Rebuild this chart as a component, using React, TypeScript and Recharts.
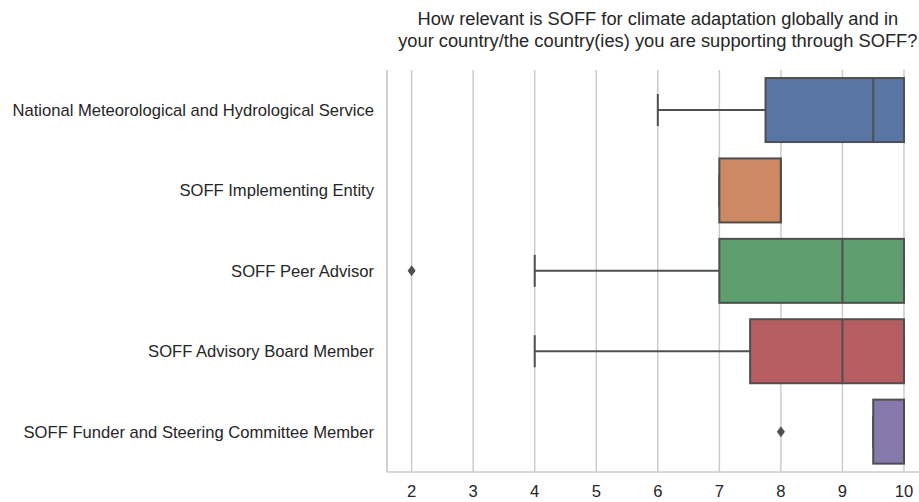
import { ComposedChart, Bar, XAxis, YAxis, CartesianGrid } from "recharts";

const groups = [
  "National Meteorological and Hydrological Service",
  "SOFF Implementing Entity",
  "SOFF Peer Advisor",
  "SOFF Advisory Board Member",
  "SOFF Funder and Steering Committee Member",
];
const whiskerLow = [6, 7, 4, 4, 9.5];
const q1 = [7.75, 7, 7, 7.5, 9.5];
const median = [9.5, 8, 9, 9, 10];
const q3 = [10, 8, 10, 10, 10];
const whiskerHigh = [10, 8, 10, 10, 10];
const outliers: (number | null)[] = [null, null, 2, null, 8];
const boxColors = ["#5875a4", "#cc8963", "#5f9e6e", "#b55d60", "#857aab"];
const xTicks = [2, 3, 4, 5, 6, 7, 8, 9, 10];

const LINE = "#4f4f4f";
const GRID = "#cccccc";
const TEXT = "#262626";

type Row = {
  name: string;
  wlo: number;
  q1: number;
  med: number;
  q3: number;
  whi: number;
  out: number | null;
  lo: number;
  hi: number;
  color: string;
};

const rows: Row[] = groups.map((name, i) => {
  const all = [whiskerLow[i], q1[i], q3[i], whiskerHigh[i]];
  if (outliers[i] != null) all.push(outliers[i] as number);
  return {
    name,
    wlo: whiskerLow[i],
    q1: q1[i],
    med: median[i],
    q3: q3[i],
    whi: whiskerHigh[i],
    out: outliers[i],
    lo: Math.min(...all),
    hi: Math.max(...all),
    color: boxColors[i],
  };
});

// draws one whole box: the bar spans [lo, hi] on the x scale, so every
// value is placed inside that span
function BoxShape(props: any) {
  const { x, y, width, height, payload } = props;
  const r: Row = payload;
  const px = (v: number) => x + ((v - r.lo) / (r.hi - r.lo)) * width;
  const cy = y + height / 2;
  const cap = height / 4;
  return (
    <g>
      <line x1={px(r.wlo)} x2={px(r.whi)} y1={cy} y2={cy} stroke={LINE} strokeWidth={2} />
      <line x1={px(r.wlo)} x2={px(r.wlo)} y1={cy - cap} y2={cy + cap} stroke={LINE} strokeWidth={2} />
      <line x1={px(r.whi)} x2={px(r.whi)} y1={cy - cap} y2={cy + cap} stroke={LINE} strokeWidth={2} />
      <rect
        x={px(r.q1)}
        y={y}
        width={px(r.q3) - px(r.q1)}
        height={height}
        fill={r.color}
        stroke={LINE}
        strokeWidth={2}
      />
      <line x1={px(r.med)} x2={px(r.med)} y1={y} y2={y + height} stroke={LINE} strokeWidth={2} />
      {r.out != null && (
        <path
          d={`M${px(r.out)},${cy - 5.5} L${px(r.out) + 4},${cy} L${px(r.out)},${cy + 5.5} L${px(r.out) - 4},${cy} Z`}
          fill={LINE}
        />
      )}
    </g>
  );
}

export default function App() {
  return (
    <div
      style={{
        position: "fixed",
        left: 0,
        top: 0,
        width: 919,
        height: 502,
        overflow: "hidden",
        background: "#fff",
        fontFamily: "'Liberation Sans', Arial, sans-serif",
      }}
    >
      <div
        style={{
          position: "absolute",
          left: 387,
          top: 8,
          width: 541.6,
          textAlign: "center",
          fontSize: 18.3,
          lineHeight: "22px",
          color: TEXT,
          whiteSpace: "nowrap",
        }}
      >
        How relevant is SOFF for climate adaptation globally and in
        <br />
        your country/the country(ies) you are supporting through SOFF?
      </div>
      <ComposedChart
        width={940}
        height={502}
        data={rows}
        layout="vertical"
        margin={{ top: 70, right: 11.4, bottom: 0, left: 0 }}
        barCategoryGap="10%"
      >
        <CartesianGrid horizontal={false} vertical stroke={GRID} strokeWidth={1.5} />
        <XAxis
          type="number"
          domain={[1.6, 10.4]}
          ticks={xTicks}
          allowDataOverflow
          height={30}
          tickSize={0}
          tickMargin={13}
          tickLine={false}
          axisLine={{ stroke: GRID, strokeWidth: 1.5 }}
          tick={{ fill: TEXT, fontSize: 16.6 }}
        />
        <XAxis
          xAxisId="top"
          orientation="top"
          type="number"
          domain={[1.6, 10.4]}
          height={0}
          tick={false}
          tickLine={false}
          axisLine={{ stroke: GRID, strokeWidth: 1.5 }}
        />
        <YAxis
          type="category"
          dataKey="name"
          width={387}
          tickSize={0}
          tickMargin={13}
          tickLine={false}
          axisLine={{ stroke: GRID, strokeWidth: 1.5 }}
          tick={{ fill: TEXT, fontSize: 16.6 }}
        />
        <Bar
          dataKey={(r: Row) => [r.lo, r.hi]}
          shape={BoxShape}
          isAnimationActive={false}
        />
      </ComposedChart>
    </div>
  );
}
